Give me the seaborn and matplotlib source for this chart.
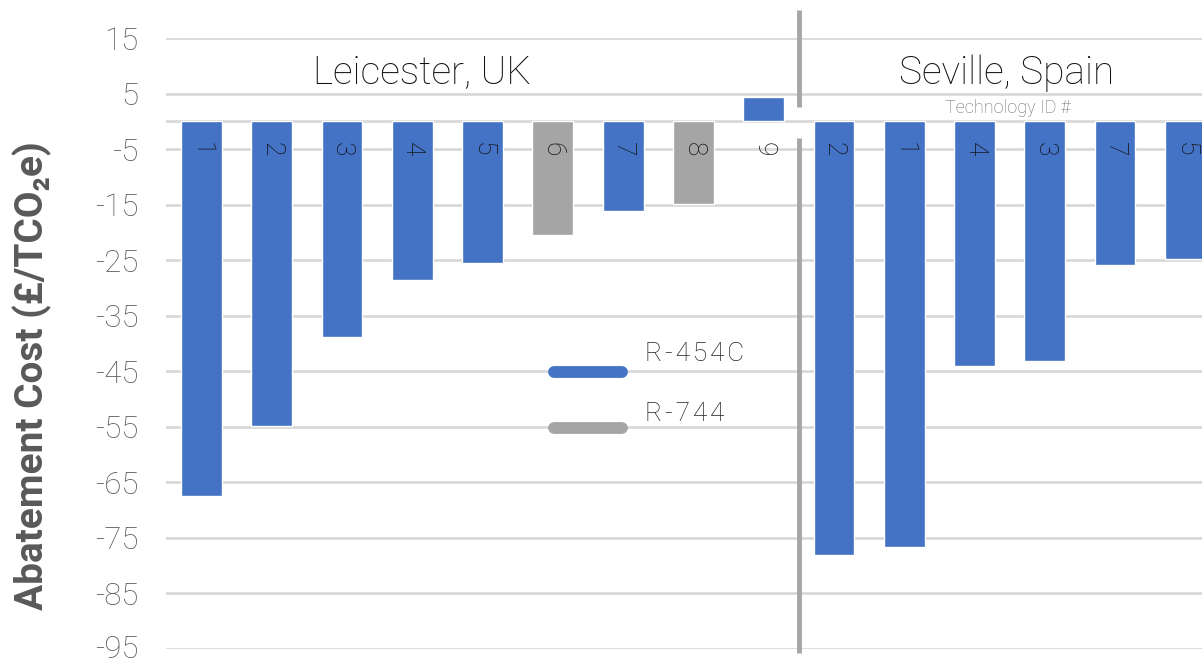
import matplotlib
matplotlib.use("Agg")
import matplotlib.pyplot as plt
import seaborn as sns
import pandas as pd
from matplotlib.transforms import blended_transform_factory, ScaledTranslation

# ---- data ----
cities = ["Leicester, UK"] * 9 + ["Seville, Spain"] * 6
tech_ids = ["1", "2", "3", "4", "5", "6", "7", "8", "9",
            "2", "1", "4", "3", "7", "5"]
refrigerants = ["R-454C", "R-454C", "R-454C", "R-454C", "R-454C", "R-744",
                "R-454C", "R-744", "R-454C",
                "R-454C", "R-454C", "R-454C", "R-454C", "R-454C", "R-454C"]
costs = [-67.5, -54.8, -38.9, -28.6, -25.5, -20.4, -16.2, -14.8, 4.4,
         -78.0, -76.7, -44.1, -43.2, -25.9, -24.7]
yticks = [15, 5, -5, -15, -25, -35, -45, -55, -65, -75, -85, -95]

keys = [f"{c[0]}{t}" for c, t in zip(cities, tech_ids)]
df = pd.DataFrame({"key": keys, "city": cities, "tech": tech_ids,
                   "refrigerant": refrigerants, "cost": costs})

BLUE = "#4472C4"
GREY = "#A5A5A5"
palette = {"R-454C": BLUE, "R-744": GREY}

sns.set_theme(style="white")
plt.rcParams["font.family"] = ["Roboto", "DejaVu Sans"]

fig = plt.figure(figsize=(12.02, 6.64), dpi=100)
ax = fig.add_axes([166.4 / 1202, 1 - 649 / 664, 1054 / 1202, 611 / 664])

sns.barplot(data=df, x="key", y="cost", hue="refrigerant", order=keys,
            palette=palette, width=0.58, dodge=False, legend=False,
            saturation=1, ax=ax, errorbar=None)

ax.set_xlim(-0.5, len(keys) - 0.5)
ax.set_ylim(-95, 15)
ax.set_yticks(yticks)
ax.set_yticklabels([str(v) for v in yticks], fontsize=22.5, color="#595959",
                   fontweight="light")
ax.tick_params(axis="y", length=0, pad=20)
# nudge the bottom tick label up a little so it is not clipped
lowest = ax.get_yticklabels()[-1]
lowest.set_transform(lowest.get_transform() +
                     ScaledTranslation(0, 3 / 100, fig.dpi_scale_trans))
ax.set_xticks([])
ax.set_xlabel("")
ax.set_ylabel("")
for s in ax.spines.values():
    s.set_visible(False)
ax.yaxis.grid(True, color="#D9D9D9", lw=2)
ax.set_axisbelow(True)
ax.axhline(0, color="#D9D9D9", lw=2, zorder=0.5)

# bar labels (technology IDs)
for i, t in enumerate(tech_ids):
    ax.text(i, -5, t, rotation=-90, ha="center", va="center", fontsize=19,
            color="#111111", fontweight="light")

# divider between cities
n_leic = cities.count("Leicester, UK")
trans = blended_transform_factory(ax.transData, ax.transAxes)
xdiv = n_leic - 0.5
ax.plot([xdiv, xdiv], [1.046, 0.887], transform=trans, color="#A6A6A6",
        lw=3.5, clip_on=False, solid_capstyle="butt")
ax.plot([xdiv, xdiv], [0.836, -0.0065], transform=trans, color="#A6A6A6",
        lw=3.5, clip_on=False, solid_capstyle="butt")

# city titles
ax.text(0.2425, 0.943, "Leicester, UK", transform=ax.transAxes, ha="center",
        va="center", fontsize=28, fontweight="light", color="#111111")
ax.text(0.7975, 0.943, "Seville, Spain", transform=ax.transAxes, ha="center",
        va="center", fontsize=28, fontweight="light", color="#111111")
ax.text(0.798, 0.885, "Technology ID #", transform=ax.transAxes, ha="center",
        va="center", fontsize=13, fontweight="light", color="#6E6E6E")

# legend (manual)
HAIR = "\u200A"
for (lab, col, ly, ty) in [("R-454C", BLUE, 0.453, 0.483),
                           ("R-744", GREY, 0.362, 0.385)]:
    ax.plot([0.368, 0.432], [ly, ly], transform=ax.transAxes, color=col,
            lw=8.5, solid_capstyle="round", clip_on=False)
    ax.text(0.454, ty, HAIR.join(lab), transform=ax.transAxes, ha="left",
            va="center", fontsize=19, color="#222222", fontweight="light")

fig.text(32 / 1202, 1 - 376 / 664, "Abatement Cost (£/TCO₂e)", rotation=90,
         ha="center", va="center", fontsize=28, fontweight="bold",
         color="#595959")

fig.savefig("out.png", dpi=100)
